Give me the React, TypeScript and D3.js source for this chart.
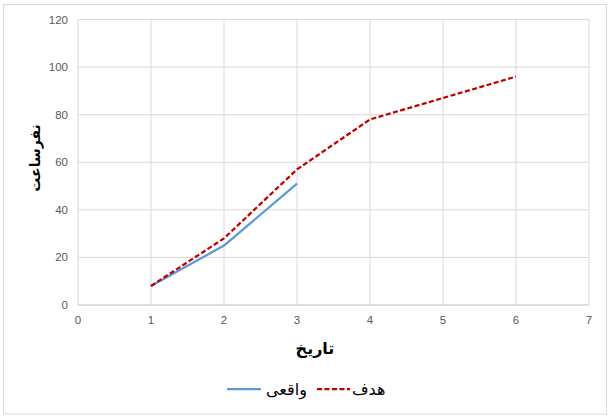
import React from "react";
import * as d3 from "d3";

const xValuesTarget = [1, 2, 3, 4, 5, 6];
const targetValues = [8, 28, 57, 78, 87, 96];
const xValuesActual = [1, 2, 3];
const actualValues = [8, 25, 51];
const xTicks = [0, 1, 2, 3, 4, 5, 6, 7];
const yTicks = [0, 20, 40, 60, 80, 100, 120];
const xTitle = "تاریخ";
const yTitle = "نفرساعت";
const actualName = "واقعی";
const targetName = "هدف";

export default function App() {
  const W = 614, H = 417;
  const left = 78, right = 589, top = 19.5, bottom = 305;
  const x = d3.scaleLinear().domain([0, 7]).range([left, right]);
  const y = d3.scaleLinear().domain([0, 120]).range([bottom, top]);
  const line = d3.line<[number, number]>().x(d => x(d[0])).y(d => y(d[1]));
  const tData = xValuesTarget.map((v, i) => [v, targetValues[i]] as [number, number]);
  const aData = xValuesActual.map((v, i) => [v, actualValues[i]] as [number, number]);
  const font = "'DejaVu Sans', 'Liberation Sans', sans-serif";
  return (
    <svg width={W} height={H} style={{ position: "absolute", left: 0, top: 0 }} fontFamily={font}>
      <rect x={0} y={0} width={W} height={H} fill="#fff" />
      <rect x={3.5} y={4.5} width={603} height={409.5} fill="#fff" stroke="#D9D9D9" strokeWidth={1} />
      {xTicks.map(t => (
        <line key={"gx" + t} x1={x(t)} x2={x(t)} y1={top} y2={bottom} stroke="#D9D9D9" strokeWidth={1} />
      ))}
      {yTicks.map(t => (
        <line key={"gy" + t} x1={left} x2={right} y1={y(t)} y2={y(t)} stroke={t === 0 ? "#BFBFBF" : "#D9D9D9"} strokeWidth={1} />
      ))}
      {yTicks.map(t => (
        <text key={"ly" + t} x={left - 10} y={y(t)} dy="0.35em" textAnchor="end" fontSize={11.5} fill="#595959" fontFamily="'Liberation Sans', sans-serif">{t}</text>
      ))}
      {xTicks.map(t => (
        <text key={"lx" + t} x={x(t)} y={bottom + 15} dy="0.35em" textAnchor="middle" fontSize={11.5} fill="#595959" fontFamily="'Liberation Sans', sans-serif">{t}</text>
      ))}
      <path d={line(aData) || ""} fill="none" stroke="#5B9BD5" strokeWidth={2.25} strokeLinejoin="round" />
      <path d={line(tData) || ""} fill="none" stroke="#C00000" strokeWidth={2.25} strokeDasharray="5 2.5" strokeLinejoin="round" />
      <text x={315} y={348} dy="0.35em" textAnchor="middle" fontSize={16} fontWeight="bold" fill="#000">{xTitle}</text>
      <text transform={`translate(35,158) rotate(-90)`} dy="0.35em" textAnchor="middle" fontSize={14} fontWeight="bold" fill="#000">{yTitle}</text>
      <line x1={227} x2={261} y1={389} y2={389} stroke="#5B9BD5" strokeWidth={2.25} />
      <text x={266} y={389} dy="0.35em" textAnchor="start" fontSize={16} fill="#000">{actualName}</text>
      <line x1={317} x2={350} y1={389} y2={389} stroke="#C00000" strokeWidth={2.25} strokeDasharray="5 2.5" />
      <text x={352} y={389} dy="0.35em" textAnchor="start" fontSize={16} fill="#000">{targetName}</text>
    </svg>
  );
}
